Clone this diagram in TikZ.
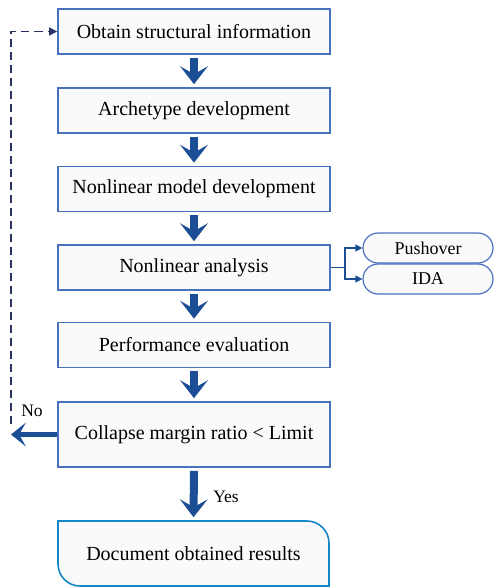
\documentclass[tikz,border=0pt]{standalone}
\usepackage{fontspec}
\setmainfont{Liberation Serif}
\usetikzlibrary{arrows.meta}

\definecolor{rahmen}{RGB}{72,114,190}
\definecolor{pfeil}{RGB}{28,78,150}
\definecolor{hell}{RGB}{250,250,251}
\definecolor{ende}{RGB}{20,135,200}
\definecolor{strich}{RGB}{40,52,100}

\tikzset{
	stufe/.style={draw=rahmen, line width=1.6pt, fill=hell, minimum width=272pt,
		minimum height=45pt, inner sep=0pt, font=\fontsize{20}{24}\selectfont},
	pille/.style={draw=rahmen, line width=1.2pt, fill=hell, rounded corners=15pt,
		minimum width=130pt, minimum height=30pt, inner sep=0pt,
		font=\fontsize{18}{21}\selectfont},
	blockpfeil/.style={draw=pfeil, line width=8pt,
		-{Stealth[length=18pt, width=28pt, inset=8pt, line width=0pt]}},
	zweig/.style={draw=pfeil, line width=1.2pt, -{Triangle[length=7pt, width=7pt]}},
	marke/.style={font=\fontsize{17.5}{21}\selectfont}
}

\begin{document}
\begin{tikzpicture}[x=1pt, y=-1pt]
	\useasboundingbox (0,0) rectangle (496,587);
	% Ablaufschritte
	\node[stufe] (info) at (194, 31.5) {Obtain structural information};
	\node[stufe] (arch) at (194, 110.5) {Archetype development};
	\node[stufe] (modell) at (194, 189) {Nonlinear model development};
	\node[stufe] (analyse) at (194, 267.5) {Nonlinear analysis};
	\node[stufe] (bewert) at (194, 345) {Performance evaluation};
	\node[stufe, minimum height=65pt] (cmr) at (194, 434.5) {Collapse margin ratio < Limit};
	% Ergebnisfeld
	\coordinate (erg) at (193.5, 553.5);
	\filldraw[draw=ende, line width=1.6pt, fill=hell] ([shift={(-135.5,-32.5)}]erg)
		-- ([shift={(113.5,-32.5)}]erg) arc[start angle=90, end angle=0, radius=22pt]
		-- ([shift={(135.5,32.5)}]erg) -- ([shift={(-113.5,32.5)}]erg)
		arc[start angle=270, end angle=180, radius=22pt] -- cycle;
	\node[stufe, draw=none, fill=none, minimum width=271pt, minimum height=65pt]
		(doku) at (erg) {Document obtained results};

	% Pfeile zwischen den Schritten
	\foreach \a/\b in {info/arch, arch/modell, modell/analyse, analyse/bewert, bewert/cmr, cmr/doku}
		\draw[blockpfeil] ([yshift=-3pt]\a.south) -- ([yshift=3pt]\b.north);
	\node[marke] (ja) at (226, 497) {Yes};

	% Analysearten
	\node[pille] (push) at (428, 248) {Pushover};
	\node[pille] (ida) at (428, 279) {IDA};
	\coordinate (gabel) at (345, 267.5);
	\draw[draw=pfeil, line width=1.2pt] (analyse.east) -- (gabel);
	\draw[zweig] (gabel) |- (push.west);
	\draw[zweig] (gabel) |- (ida.west);

	% Rueckfuehrung
	\coordinate (links) at (11, 434.5);
	\coordinate (ruck) at (11, 424);
	\draw[draw=pfeil, line width=5pt,
		-{Stealth[length=15pt, width=24pt, inset=7pt, line width=0pt]}]
		(cmr.west) -- (links);
	\node[marke] (nein) at (32, 411) {No};
	\draw[draw=strich, line width=1.4pt, dash pattern=on 8pt off 5pt,
		-{Triangle[length=8pt, width=8pt]}] (ruck) |- (info.west);
\end{tikzpicture}
\end{document}
